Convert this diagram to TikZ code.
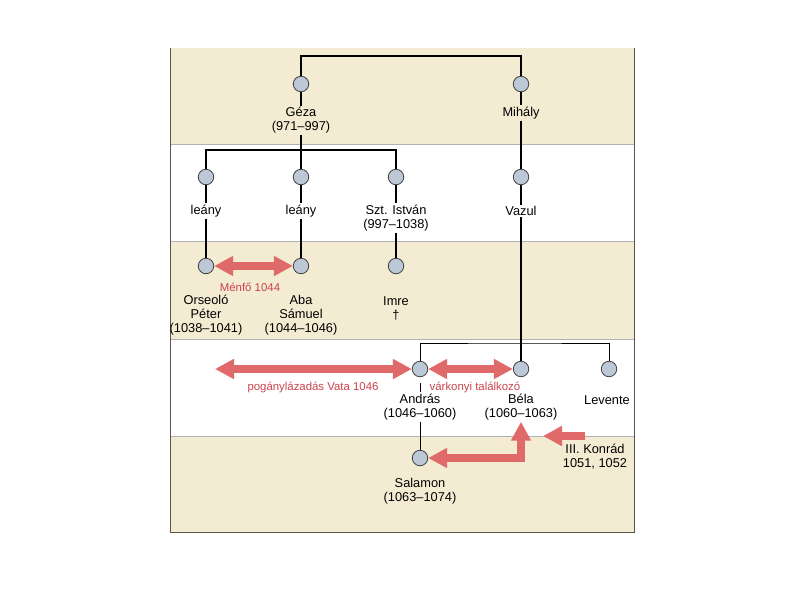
\documentclass[tikz,border=0pt]{standalone}
\usepackage{fontspec}
\setmainfont{Liberation Sans}
\usetikzlibrary{arrows.meta}
\definecolor{band}{HTML}{F4ECD2}
\definecolor{circ}{HTML}{BCC8D5}
\definecolor{redarr}{HTML}{E06A6A}
\definecolor{redtxt}{HTML}{C9434D}
\definecolor{frame}{HTML}{5A5548}
\begin{document}
\begin{tikzpicture}[x=1pt,y=-1pt,
 pers/.style={circle,draw=black!75,fill=circ,line width=0.8pt,minimum size=15.5pt,inner sep=0pt},
 lab/.style={align=center,font=\fontsize{12.8}{14}\selectfont,inner sep=1.5pt},
 rlab/.style={text=redtxt,font=\fontsize{11.4}{13}\selectfont,inner sep=1pt},
 con/.style={line width=1.4pt},
 thincon/.style={line width=0.8pt},
 rarr/.style={draw=redarr,line width=8pt,line join=miter,-{Triangle[length=19pt,width=19pt]}},
 rdbl/.style={draw=redarr,line width=8pt,line join=miter,{Triangle[length=19pt,width=19pt]}-{Triangle[length=19pt,width=19pt]}},
]
\useasboundingbox[fill=white] (0,0) rectangle (794,595);
% bands
\fill[band] (170,48) rectangle (634,144);
\fill[band] (170,241) rectangle (634,339);
\fill[band] (170,436) rectangle (634,532);
\draw[black!30,line width=0.8pt] (170,144) -- (634,144) (170,241) -- (634,241) (170,339) -- (634,339) (170,436) -- (634,436);
\draw[frame,line width=0.9pt] (170,48) -- (170,532) -- (634,532) -- (634,48);

% persons
\node[pers] (geza) at (301,84) {};
\node[pers] (mihaly) at (521,84) {};
\node[lab] (gezal) at (301,120.5) {Géza\\(971–997)};
\node[lab] (mihalyl) at (521,113) {Mihály};
\node[pers] (leany1) at (206,177) {};
\node[pers] (leany2) at (301,177) {};
\node[pers] (istvan) at (396,177) {};
\node[pers] (vazul) at (521,177) {};
\node[lab] (leany1l) at (206,211) {leány};
\node[lab] (leany2l) at (301,211) {leány};
\node[lab] (istvanl) at (396,218) {Szt. István\\(997–1038)};
\node[lab] (vazull) at (521,211) {Vazul};
\node[pers] (peter) at (206,266) {};
\node[pers] (aba) at (301,266) {};
\node[pers] (imre) at (396,266) {};
\node[lab] (peterl) at (206,315.5) {Orseoló\\Péter\\(1038–1041)};
\node[lab] (abal) at (301,315.5) {Aba\\Sámuel\\(1044–1046)};
\node[lab] (imrel) at (396,309) {Imre\\†};
\node[pers] (andras) at (420,369) {};
\node[pers] (bela) at (521,369) {};
\node[pers] (levente) at (609,369) {};
\node[lab] (andrasl) at (420,407) {András\\(1046–1060)};
\node[lab] (belal) at (521,407) {Béla\\(1060–1063)};
\node[lab] (leventel) at (607,400) {Levente};
\node[pers] (salamon) at (420,458) {};
\node[lab] (salamonl) at (420,491) {Salamon\\(1063–1074)};
\node[lab] (konradl) at (595,457) {III. Konrád\\1051, 1052};

% red labels
\node[rlab] (menfo) at (250,287) {Ménfő 1044};
\node[rlab] (pogany) at (313,387) {pogánylázadás Vata 1046};
\node[rlab] (varkonyi) at (475,387) {várkonyi találkozó};

% coordinates
\coordinate (top) at (411,56);
\coordinate (b2) at (301,150);
\coordinate (b4) at (515,343);
\coordinate (pl) at (215,369);
\coordinate (ks) at (585,436);
\coordinate (ke) at (543,436);

% connectors
\draw[con] (geza) |- (top) -| (mihaly);
\draw[con] (geza) -- (gezal);
\draw[con] (gezal) -- (leany2);
\draw[con] (leany1) |- (b2) -| (istvan);
\draw[con] (mihaly) -- (mihalyl) -- (vazul);
\draw[con] (leany1) -- (leany1l) -- (peter);
\draw[con] (leany2) -- (leany2l) -- (aba);
\draw[con] (istvan) -- (istvanl) -- (imre);
\draw[con] (vazul) -- (vazull) -- (bela);
\draw[thincon] (andras) |- (b4) -| (levente);
\draw[thincon,shorten <=6pt] (andras) -- (andrasl);
\draw[thincon] (andrasl) -- (salamon);

% red arrows
\draw[rdbl] (peter) -- (aba);
\draw[rdbl] (pl) -- (andras);
\draw[rdbl] (andras) -- (bela);
\draw[rdbl] (salamon) -| (belal);
\draw[rarr] (ks) -- (ke);
\end{tikzpicture}
\end{document}
